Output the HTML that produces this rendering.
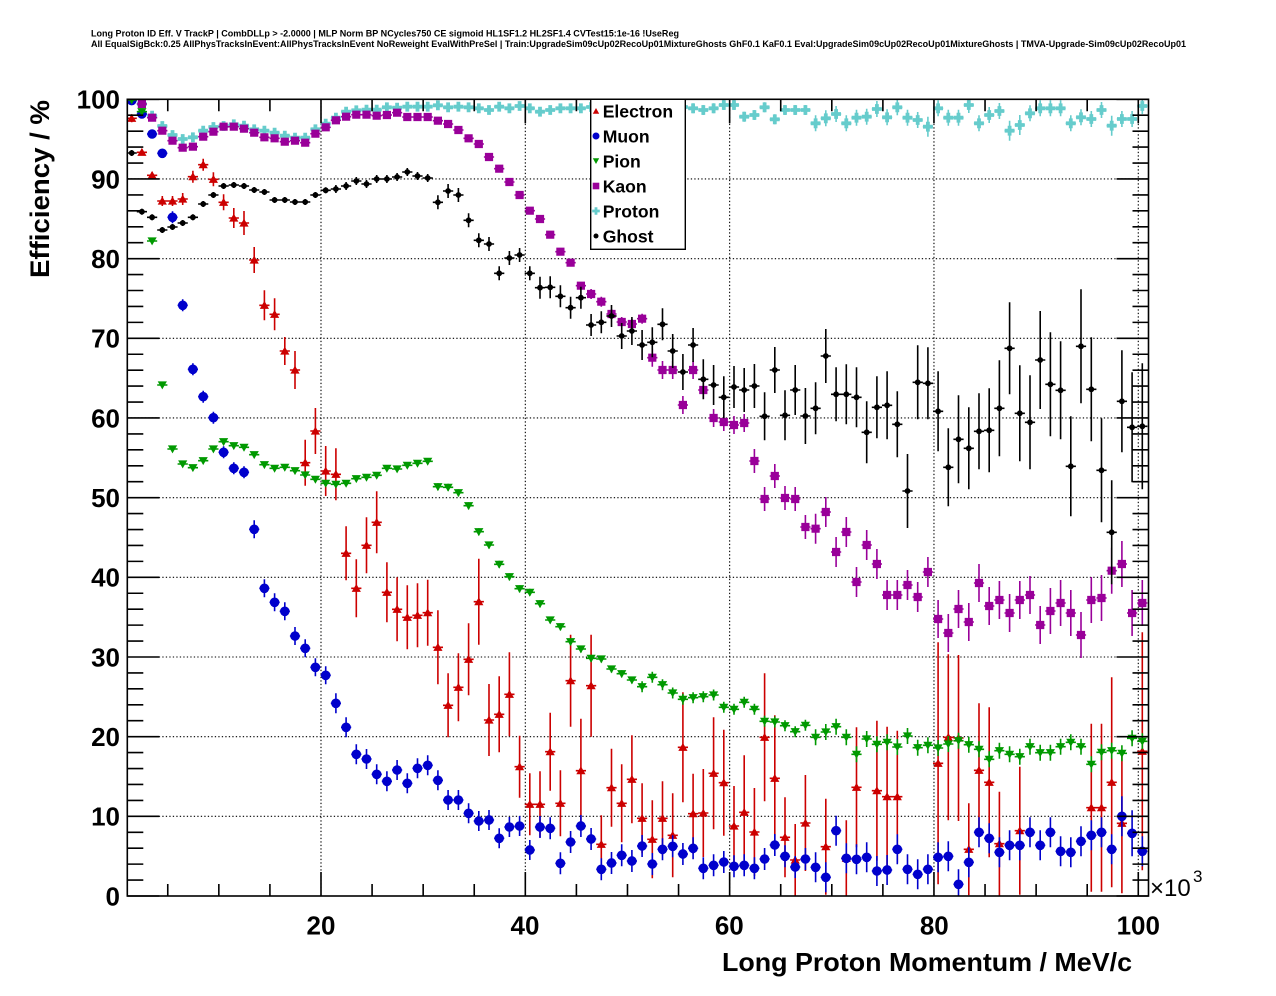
<!DOCTYPE html>
<html><head><meta charset="utf-8"><style>
html,body{margin:0;padding:0;background:#fff;}
svg{display:block;font-family:"Liberation Sans",Arial,sans-serif;}
</style></head><body>
<svg id="s" xmlns="http://www.w3.org/2000/svg" width="1276" height="996" viewBox="0 0 1276 996">
<rect width="1276" height="996" fill="#fff"/>
<text x="91" y="36.5" font-size="9" font-weight="bold" textLength="588" lengthAdjust="spacingAndGlyphs">Long Proton ID Eff. V TrackP | CombDLLp &gt; -2.0000 | MLP Norm BP NCycles750 CE sigmoid HL1SF1.2 HL2SF1.4 CVTest15:1e-16 !UseReg</text>
<text x="91" y="47" font-size="9" font-weight="bold" textLength="1095" lengthAdjust="spacingAndGlyphs">All EqualSigBck:0.25 AllPhysTracksInEvent:AllPhysTracksInEvent NoReweight EvalWithPreSel | Train:UpgradeSim09cUp02RecoUp01MixtureGhosts GhF0.1 KaF0.1 Eval:UpgradeSim09cUp02RecoUp01MixtureGhosts | TMVA-Upgrade-Sim09cUp02RecoUp01</text>
<defs><clipPath id="cp"><rect x="127.3" y="99.3" width="1021.2" height="796.7"/></clipPath></defs>
<path id="grid" d="" stroke="#000" stroke-width="1.1" stroke-dasharray="1.3 2.2" fill="none"/>
<g id="data" clip-path="url(#cp)"></g>
<path id="ticks" d="" stroke="#000" stroke-width="1.6" fill="none"/>
<rect x="127.3" y="99.3" width="1021.2" height="796.7" fill="none" stroke="#000" stroke-width="1.6"/>

<!-- legend -->
<rect x="590.7" y="99.3" width="94.6" height="150" fill="#fff" stroke="#000" stroke-width="1.4"/>
<polygon points="592.8,113.8 599.2,113.8 596,108" fill="#cc0000"/>
<circle cx="596" cy="136" r="3.5" fill="#0000cc"/>
<polygon points="592.8,158.2 599.2,158.2 596,164" fill="#009900"/>
<rect x="592.7" y="182.7" width="6.6" height="6.6" fill="#990099"/>
<path d="M592.2 209.6h7.6v2.8h-7.6zM594.6 207.2h2.8v7.6h-2.8z" fill="#66cccc"/>
<circle cx="596" cy="236" r="2.5" fill="#000"/>
<g font-size="17.6" font-weight="bold" fill="#000">
<text x="602.7" y="117.5">Electron</text>
<text x="602.7" y="142.5">Muon</text>
<text x="602.7" y="167.5">Pion</text>
<text x="602.7" y="192.5">Kaon</text>
<text x="602.7" y="217.5">Proton</text>
<text x="602.7" y="242.5">Ghost</text>
</g>

<!-- axis labels -->
<g font-size="26" font-weight="bold" text-anchor="end" fill="#000">
<text x="120" y="108.6">100</text>
<text x="120" y="188.3">90</text>
<text x="120" y="268">80</text>
<text x="120" y="347.7">70</text>
<text x="120" y="427.3">60</text>
<text x="120" y="507">50</text>
<text x="120" y="586.6">40</text>
<text x="120" y="666.3">30</text>
<text x="120" y="746">20</text>
<text x="120" y="825.6">10</text>
<text x="120" y="905.3">0</text>
</g>
<g font-size="26" font-weight="bold" text-anchor="middle" fill="#000">
<text x="321" y="934.3">20</text>
<text x="525" y="934.3">40</text>
<text x="729.3" y="934.3">60</text>
<text x="934.3" y="934.3">80</text>
<text x="1138.3" y="934.3">100</text>
</g>
<text x="1150" y="896" font-size="24" fill="#000">×10</text>
<text x="1193" y="882" font-size="17" fill="#000">3</text>
<text x="1132" y="971" font-size="26" font-weight="bold" text-anchor="end" textLength="410" lengthAdjust="spacingAndGlyphs">Long Proton Momentum / MeV/c</text>
<text transform="translate(49,278) rotate(-90)" font-size="27" font-weight="bold" textLength="178" lengthAdjust="spacingAndGlyphs">Efficiency / %</text>
</svg>
<script>
(function(){
const X=i=>131.7+(i-1)*10.208;
let g='';
[20,40,60,80,100].forEach(v=>{const x=321+(v-20)*10.216;g+=`M${x} 99.3V896`;});
for(let p=10;p<=90;p+=10){const y=896-p*7.967;g+=`M127.3 ${y}H1148.5`;}
document.getElementById('grid').setAttribute('d',g);
let t='';
for(let v=5;v<=100;v+=5){const x=321+(v-20)*10.216;const L=v%20==0?24:12;t+=`M${x} 896V${896-L}M${x} 99.3V${99.3+L}`;}
for(let p=0;p<=100;p+=2){const y=896-p*7.967;const L=p%10==0?32:16;t+=`M127.3 ${y}H${127.3+L}M1148.5 ${y}H${1148.5-L}`;}
document.getElementById('ticks').setAttribute('d',t);

const P=[99.8,104,115.7,126,135,139,137.3,130.7,127,126,124.3,125.7,129.3,130.7,132.7,135.7,137.7,137.7,129.3,123.7,117.7,111.7,110.3,109.7,109.7,107.3,107.7,106.7,106.7,106.7,105.3,107.3,106.7,107.3,108.3,110,106.7,108.3,106,108.3,111.7,110,108.3,108.3,108.3,107,107,107,107,107,107,107,107,107,107,108.3,110,108.3,105,105,116.7,115,107.3,119.3,110,110,110,123.3,118.3,114,123.3,117.7,116.7,109,117.3,107.3,117.7,120,126.7,108.3,117.7,117.7,105,123.3,115,111,130.7,125,113.3,108.3,108.3,108.3,123.3,117.3,119,110,125.7,119,119,106];
const Pe=i=>i<=30?1.5:i<=55?2.5:i<=67?5:([79,87,88,97].includes(i)?10:8);
const K=[99,104,117.7,130.7,140.7,147.7,146.7,136.7,131.7,126.7,126.7,128.7,132.7,137.3,138.3,141.7,140.7,142.7,133.7,127.3,120.3,116.7,114.7,114.7,115.7,115,112.7,117,117,117,120.7,124,130,138.3,144,157,168.7,182,195,210.7,219,234.7,251.7,262.7,285.7,294,301.7,314,322,324,318.7,357.7,370,370,405,370,390,418,422,425,423,461,499,476,498,499,527,528.7,512,552,532,582,545,564,595,595,585,597,572,619,633,609,622,583,606,600,613,600,595,625,611,603,613,635,600,598,570.7,564,613,603];
const Ke=i=>i<=35?2:i<=45?3:i<=51?5:i<=61?9:i<=67?12:i<=79?15:i<=90?19:23;
const G=[153,211.7,217.3,230,227,223,217.3,204,195,186,185,186,190,192,200,200,202,202,195,190.3,189,186,181,184,179,179,177,172,176,178,202.3,191,195,220.3,240.3,244,273.3,258,255,273.3,287.7,287.3,296.3,307.7,297.7,325,322.3,316,336,331,345,342.3,324.3,351,372,345,379.3,385,397.3,387,390,386,416.3,370,415.3,390,416,408.3,356,394.3,394.3,397.3,432.3,407.3,405.3,424.3,491,382.3,383.3,411.3,467.3,439.3,448.3,431.3,430.3,408.3,348.3,413.3,422.3,360,384.3,390.3,466.3,346.3,389.3,470.3,532.3,401.3,427.3,426.3];
const Gl=[13,14,15,15,16,17,18,17,20,20,21,21,22,22,24,23,25,25,28,26,27,27,30,30,31,31,34,33,37,37,36,40,39,44,41,38,42,48,46,48,47,49,52,49,50,57,52,52,52,51,55,63];
const Ge=i=>i<=20?3:i<=30?4:i<=40?7:i<=48?11:Gl[i-49];
const Pi=[100,111.7,241,385,449,464,467.7,460.7,449,441.7,445.7,447.3,454.7,464.7,468.3,467.3,470.7,475,479.3,483.3,484.3,483.3,478.7,477.3,475.3,468.3,469,465.3,463.3,461.3,486.7,487.3,492.7,505.7,531.7,545,564.3,576.7,588.7,592.3,603.7,620,626.7,641.7,649,658.3,659,669,673.7,680,686.7,677.3,684.7,693,699.3,697.7,696.7,695,707.3,709.3,702.3,709.3,721.3,722,725.7,731.7,725.3,737.3,732,726.7,737.3,754.3,739,744.3,742.3,747,736,747.7,745.3,748,744,740.7,744.7,749.3,759.3,750.7,754.3,756.7,746.7,752.7,752.7,746.7,742.3,746.7,764.3,752.3,750.7,753.3,738.3,741.3];
const Pie=i=>i<=30?2:i<=50?3.5:i<=67?5.5:8;
const M=[100.6,114,134,153.3,217.3,305.3,369.3,396.7,417.7,452.3,468.3,472.3,529.3,588.3,602.3,611.3,636,648.3,667.3,675.3,703.3,727.3,754.3,759,774.3,781.3,770,783.3,768.3,765.3,780.3,800,800,813.3,821,820,838.3,827,826,850,827,828.3,863.3,842,826,839,869.3,863,855.3,861,846,864,849.3,846.3,854,848.3,868.3,865.3,862,866.3,865.3,868.3,859,845,856.3,867,859,867.3,877.3,830.7,858.3,859.3,857.3,871,870,849.3,869.3,874.3,869.3,857.3,856.3,884.3,862.3,832.3,838.3,852.3,845.3,845.3,832.3,845.3,832.3,851.3,852.3,841.3,835.3,832.3,849.3,816.3,833.3,851.3];
const Me=i=>i<=4?3:i<=12?6:i<=20?9:i<=40?10:i<=67?11:(i==98?20:i==99?23:15);
const E=[118.3,152.3,175.3,201,201,199,176.7,164.7,179.3,202.3,218,223,260,305.3,314.3,351,370,462.7,431,471,474.3,553.3,588.3,545.3,522.3,592.3,609.3,617.3,615.3,612.7,647.3,705.3,687.3,659.3,601.7,720,714.3,694.3,766.7,804.3,804.3,751.7,803.3,680.7,770.7,685.7,844.3,787.7,803.3,779.3,818.3,839.3,818.3,835.3,747.3,813.7,813,773.3,782.7,826,812.3,832,737.3,778.3,837.3,860,823,null,846.7,null,858.3,787.3,null,790.7,796.7,796.7,null,null,null,763.3,737.3,738,849.3,770.3,782.3,843.7,null,830.7,null,null,null,null,null,null,807.7,807.7,782.3,823.3,null,751.3];
const Eer=[4,3,3,5,5,6,6,6,7,8,10,12,13,15,16,14,19,23,23,25,26,27,29,28,31,30,32,32,32,33,37,32,34,36,43,36,38,42,31,31,33,39,33,46,52,51,29,39,39,44,35,39,37,42,55,40,44,56,53,40,57,44,64,63,40,36,48,0,48,0,38,60,0,70,70,66,0,0,0,121,83,83,46,67,75,52,0,64,0,0,0,0,0,0,84,84,105,70,0,119];
const Ee=i=>Eer[i-1];

function mk(type,x,y){
  switch(type){
    case 'tu':return `M${x-4.6} ${y+3.6}L${x+4.6} ${y+3.6}L${x} ${y-4.4}Z`;
    case 'td':return `M${x-4.6} ${y-3.6}L${x+4.6} ${y-3.6}L${x} ${y+4.4}Z`;
    case 'c':{const r=4.8;return `M${x-r} ${y}a${r} ${r} 0 1 0 ${2*r} 0a${r} ${r} 0 1 0 ${-2*r} 0Z`;}
    case 'd':{const r=2.9;return `M${x-r} ${y}a${r} ${r} 0 1 0 ${2*r} 0a${r} ${r} 0 1 0 ${-2*r} 0Z`;}
    case 'sq':return `M${x-4.1} ${y-4.1}h8.2v8.2h-8.2Z`;
    case 'cr':{const a=4.9,t=1.9;return `M${x-a} ${y-t}H${x-t}V${y-a}H${x+t}V${y-t}H${x+a}V${y+t}H${x+t}V${y+a}H${x-t}V${y+t}H${x-a}Z`;}
  }
}
const series=[
  [P,Pe,'cr','#66cccc'],
  [K,Ke,'sq','#990099'],
  [G,Ge,'d','#000000'],
  [E,Ee,'tu','#cc0000'],
  [M,Me,'c','#0000cc'],
  [Pi,Pie,'td','#009900']
];
let html='';
series.forEach(([Y,Ef,type,col])=>{
  let ed='',md='';
  for(let i=1;i<=100;i++){
    const y=Y[i-1];if(y==null)continue;
    const x=X(i);const e=Ef(i);
    ed+=`M${(x-5.1).toFixed(1)} ${y}H${(x+5.1).toFixed(1)}`;
    if(e>0)ed+=`M${x.toFixed(1)} ${y-e}V${y+e}`;
    md+=mk(type,+x.toFixed(1),y);
  }
  html+=`<path d="${ed}" stroke="${col}" stroke-width="1.6" fill="none"/>`;
  html+=`<path d="${md}" fill="${col}"/>`;
});
document.getElementById('data').innerHTML=html;
})();
</script>
</body></html>
